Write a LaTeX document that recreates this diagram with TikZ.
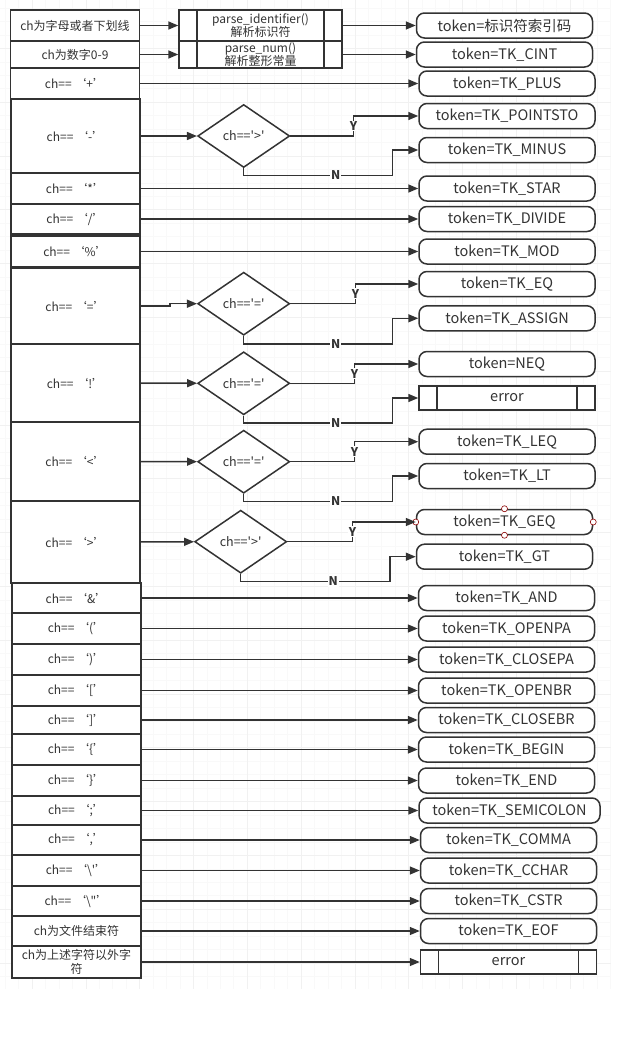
\documentclass[tikz,border=0pt]{standalone}
\usepackage{fontspec}
\usetikzlibrary{shapes.geometric, arrows.meta, positioning, calc}
\newfontfamily\yahei{Noto Sans CJK SC}
\definecolor{ink}{HTML}{333333}

\begin{document}
\begin{tikzpicture}[x=1pt, y=-1pt,
  case/.style={rectangle, draw=ink, fill=white, line width=1.5pt, minimum width=129pt, align=center, inner sep=0pt, text=ink, font=\yahei\fontsize{12}{13.5}\selectfont},
  token/.style={rectangle, rounded corners=8pt, draw=ink, fill=white, line width=1.5pt, minimum width=176pt, minimum height=25pt, inner sep=0pt, text=ink, font=\yahei\fontsize{14.5}{15}\selectfont},
  proc/.style={rectangle, draw=ink, fill=white, line width=1.5pt, align=center, inner sep=0pt, text=ink, font=\yahei\fontsize{12}{13}\selectfont,
    path picture={\draw[ink, line width=1.5pt] ([xshift=18pt]path picture bounding box.north west) -- ([xshift=18pt]path picture bounding box.south west)
      ([xshift=-18pt]path picture bounding box.north east) -- ([xshift=-18pt]path picture bounding box.south east);}},
  errbox/.style={proc, minimum width=176pt, minimum height=24pt, font=\yahei\fontsize{14.5}{15}\selectfont},
  check/.style={diamond, draw=ink, fill=white, line width=1.5pt, aspect=1.5, minimum width=92pt, minimum height=63pt, inner sep=0pt, text=ink, font=\yahei\fontsize{12.5}{14}\selectfont},
  yn/.style={fill=white, inner sep=1pt, text=ink, font=\yahei\bfseries\fontsize{12}{12}\selectfont},
  handle/.style={circle, draw=red!55!black, fill=white, line width=0.6pt, minimum size=6pt, inner sep=0pt},
  gridline/.style={line width=1pt, gray!5},
  gridmajor/.style={line width=1pt, gray!11},
  arrow/.style={draw=ink, line width=1.5pt, ->, >={Triangle[length=10pt, width=8pt]}}]

\fill[white] (0,0) rectangle (643,1042);
\useasboundingbox (0,0) rectangle (643,1042);
\foreach \i in {0,...,45} \draw[gridline] ({5.3+13.45*\i},0) -- ({5.3+13.45*\i},989);
\foreach \i in {0,...,72} \draw[gridline] (0,{8.2+13.45*\i}) -- (611,{8.2+13.45*\i});
\foreach \i in {0,...,10} \draw[gridmajor] ({32.2+53.8*\i},0) -- ({32.2+53.8*\i},989);
\foreach \i in {0,...,17} \draw[gridmajor] (0,{48.55+53.8*\i}) -- (611,{48.55+53.8*\i});

\node[case, minimum height=31pt] (cid) at (75,25.5) {ch为字母或者下划线};
\node[case, minimum height=27pt] (cnum) at (75,54.5) {ch为数字0-9};
\node[case, minimum height=31pt] (cplus) at (75,83.5) {ch==~‘+’};
\node[case, minimum height=74pt] (cminus) at (75.5,136) {ch==~‘-’};
\node[case, minimum height=31pt] (cstar) at (75.5,188.5) {ch==~‘*’};
\node[case, minimum height=30pt] (cdiv) at (75.5,219) {ch==~‘/’};
\node[case, minimum height=31pt] (cmod) at (75.5,251.5) {ch==~‘\%’};
\node[case, minimum height=76pt] (ceq) at (75.5,306) {ch==~‘=’};
\node[case, minimum height=78pt] (cnot) at (75.5,383) {ch==~‘!’};
\node[case, minimum height=79pt] (clt) at (75.5,461.5) {ch==~‘<’};
\node[case, minimum height=82pt] (cgt) at (75.5,542) {ch==~‘>’};
\node[case, minimum height=30pt] (cand) at (76.5,598) {ch==~‘\&’};
\node[case, minimum height=31pt] (clpa) at (76.5,628.5) {ch==~‘(’};
\node[case, minimum height=31pt] (crpa) at (76.5,659.5) {ch==~‘)’};
\node[case, minimum height=31pt] (clbr) at (76.5,690.5) {ch==~‘[’};
\node[case, minimum height=28pt] (crbr) at (76.5,720) {ch==~‘]’};
\node[case, minimum height=31pt] (clbe) at (76.5,749.5) {ch==~‘\{’};
\node[case, minimum height=31pt] (crbe) at (76.5,780.5) {ch==~‘\}’};
\node[case, minimum height=29pt] (csemi) at (76.5,810.5) {ch==~‘;’};
\node[case, minimum height=30pt] (ccomma) at (76.5,840) {ch==~‘,’};
\node[case, minimum height=31pt] (cchar) at (76.5,870.5) {ch==~‘\textbackslash'’};
\node[case, minimum height=30pt] (cstr) at (76.5,901) {ch==~‘\textbackslash"’};
\node[case, minimum height=30pt] (ceof) at (76.5,931) {ch为文件结束符};
\node[case, minimum height=32pt] (cother) at (76.5,962) {ch为上述字符以外字\\符};

\node[proc, minimum width=163pt, minimum height=31pt] (pid) at (260.5,25.5) {parse\_identifier()\\解析标识符};
\node[proc, minimum width=163pt, minimum height=27pt] (pnum) at (260.5,54.5) {parse\_num()\\解析整形常量};

\node[check] (dminus) at (243.7,136) {ch=='>'};
\node[check] (deq) at (243.7,303.7) {ch=='='};
\node[check] (dnot) at (243.7,383.3) {ch=='='};
\node[check] (dlt) at (243.7,461.7) {ch=='='};
\node[check] (dgt) at (240.7,541.7) {ch=='>'};

\node[token] (tid) at (504.5,25.5) {token=标识符索引码};
\node[token] (tcint) at (504.5,54.5) {token=TK\_CINT};
\node[token] (tplus) at (507,83.5) {token=TK\_PLUS};
\node[token] (tpoints) at (507,116) {token=TK\_POINTSTO};
\node[token] (tminus) at (507,150) {token=TK\_MINUS};
\node[token] (tstar) at (507,188.5) {token=TK\_STAR};
\node[token] (tdiv) at (507,219) {token=TK\_DIVIDE};
\node[token] (tmod) at (507,251.5) {token=TK\_MOD};
\node[token] (teq) at (507,284) {token=TK\_EQ};
\node[token] (tassign) at (507,318.3) {token=TK\_ASSIGN};
\node[token] (tneq) at (507,364) {token=NEQ};
\node[errbox] (terr) at (507,398) {error};
\node[token] (tleq) at (507,441.7) {token=TK\_LEQ};
\node[token] (tlt) at (507,476) {token=TK\_LT};
\node[token] (tgeq) at (504.5,522) {token=TK\_GEQ};
\node[token] (tgt) at (504.5,556.7) {token=TK\_GT};
\node[token] (tand) at (506.5,598) {token=TK\_AND};
\node[token] (topenpa) at (506.5,628.5) {token=TK\_OPENPA};
\node[token] (tclosepa) at (506.5,659.5) {token=TK\_CLOSEPA};
\node[token] (topenbr) at (506.5,690.5) {token=TK\_OPENBR};
\node[token] (tclosebr) at (506.5,720) {token=TK\_CLOSEBR};
\node[token] (tbegin) at (506.5,749.5) {token=TK\_BEGIN};
\node[token] (tend) at (506.5,780.5) {token=TK\_END};
\node[token, minimum width=181pt] (tsemi) at (509.5,810.5) {token=TK\_SEMICOLON};
\node[token] (tcomma) at (508.5,840) {token=TK\_COMMA};
\node[token] (tcchar) at (508.5,870.5) {token=TK\_CCHAR};
\node[token] (tcstr) at (508.5,901) {token=TK\_CSTR};
\node[token] (teof) at (508.5,931) {token=TK\_EOF};
\node[errbox] (terrb) at (508.5,962) {error};

\node[handle] (hn) at (tgeq.north) {};
\node[handle] (hs) at (tgeq.south) {};
\node[handle] (he) at (tgeq.east) {};
\node[handle] (hw) at (tgeq.west) {};

\draw[arrow] (cid) -- (pid);
\draw[arrow] (pid) -- (tid);
\draw[arrow] (cnum) -- (pnum);
\draw[arrow] (pnum) -- (tcint);
\draw[arrow] (cplus) -- (tplus);
\draw[arrow] (cminus) -- (dminus);
\draw[arrow] (cstar) -- (tstar);
\draw[arrow] (cdiv) -- (tdiv);
\draw[arrow] (cmod) -- (tmod);
\draw[arrow] (ceq.east) -- ++(29,0) |- (deq.west);
\draw[arrow] (cnot) -- (dnot);
\draw[arrow] (clt) -- (dlt);
\draw[arrow] (cgt) -- (dgt);
\draw[arrow] (cand) -- (tand);
\draw[arrow] (clpa) -- (topenpa);
\draw[arrow] (crpa) -- (tclosepa);
\draw[arrow] (clbr) -- (topenbr);
\draw[arrow] (crbr) -- (tclosebr);
\draw[arrow] (clbe) -- (tbegin);
\draw[arrow] (crbe) -- (tend);
\draw[arrow] (csemi) -- (tsemi);
\draw[arrow] (ccomma) -- (tcomma);
\draw[arrow] (cchar) -- (tcchar);
\draw[arrow] (cstr) -- (tcstr);
\draw[arrow] (ceof) -- (teof);
\draw[arrow] (cother) -- (terrb);

\draw[arrow] (dminus.east) -- ++(63,0) |- node[yn, pos=0.25] {Y} (tpoints.west);
\draw[arrow] (dminus.south) -- ++(0,7) -| node[yn, pos=0.31] {N} ([xshift=-26pt]tminus.west) -- (tminus.west);
\draw[arrow] (deq.east) -- ++(65,0) |- node[yn, pos=0.25] {Y} (teq.west);
\draw[arrow] (deq.south) -- ++(0,8) -| node[yn, pos=0.31] {N} ([xshift=-26pt]tassign.west) -- (tassign.west);
\draw[arrow] (dnot.east) -- ++(64,0) |- node[yn, pos=0.25] {Y} (tneq.west);
\draw[arrow] (dnot.south) -- ++(0,7.5) -| node[yn, pos=0.31] {N} ([xshift=-26pt]terr.west) -- (terr.west);
\draw[arrow] (dlt.east) -- ++(64,0) |- node[yn, pos=0.25] {Y} (tleq.west);
\draw[arrow] (dlt.south) -- ++(0,7.5) -| node[yn, pos=0.31] {N} ([xshift=-26pt]tlt.west) -- (tlt.west);
\draw[arrow] (dgt.east) -- ++(65,0) |- node[yn, pos=0.25] {Y} (tgeq.west);
\draw[arrow] (dgt.south) -- ++(0,7.5) -| node[yn, pos=0.31] {N} ([xshift=-26pt]tgt.west) -- (tgt.west);

\end{tikzpicture}
\end{document}
